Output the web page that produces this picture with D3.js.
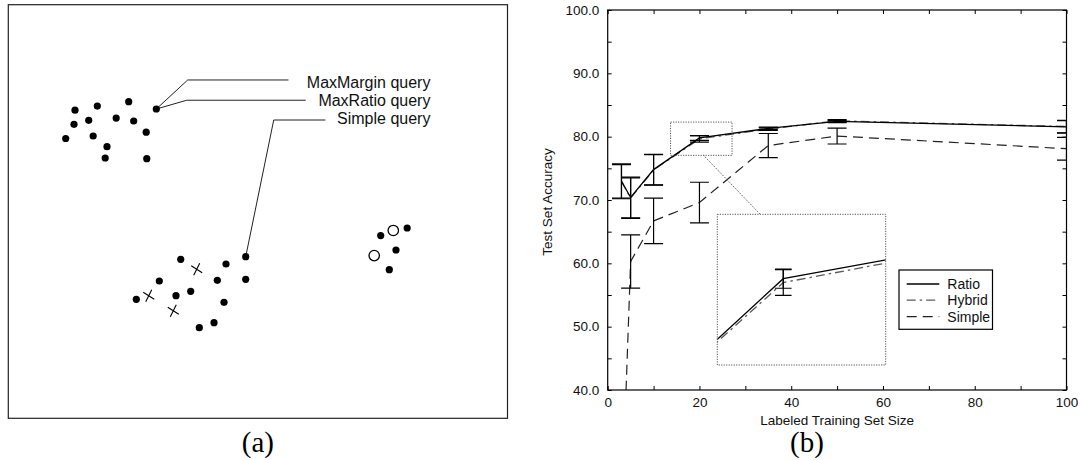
<!DOCTYPE html>
<html><head><meta charset="utf-8">
<script src="https://cdn.jsdelivr.net/npm/d3@7"></script>
<style>body{margin:0;background:#fff}svg{display:block}</style>
</head><body>
<script>
// ---------- Panel (a): toy data, abstract 0..100 plane ----------
const topClusterX = [13.36,17.83,24.12,29.65,13.16,16.11,21.61,25.12,11.5,17.0,27.62,19.77,19.41,27.74];
const topClusterY = [74.5,75.5,76.55,74.78,71.08,72.05,72.6,71.88,67.65,68.26,69.17,65.67,62.94,62.77];
const lowClusterX = [34.54,43.61,47.56,30.25,41.87,47.56,25.64,33.59,36.54,43.21,38.26,41.21];
const lowClusterY = [38.44,37.31,39.07,33.2,33.37,33.61,28.77,29.64,30.71,28.05,21.91,23.11];
const crossX = [37.74,28.13,33.05];
const crossY = [36.03,29.64,26.02];
const rightFilledX = [74.6,79.9,77.66,76.32];
const rightFilledY = [44.17,46.01,40.69,35.93];
const openX = [77.12,73.3];
const openY = [45.41,39.34];
const calloutLabels = ["MaxMargin query","MaxRatio query","Simple query"];
const calloutFromX = [29.65,29.65,47.56];
const calloutFromY = [74.78,74.78,39.07];
const calloutElbowX = [35.94,35.74,53.17];
const calloutElbowY = [81.8,76.9,72.12];
const calloutEndX = [56.13,59.58,63.52];
const calloutTextX = 84.56;
const calloutTextY = [79.79,75.5,71.15];

// ---------- Panel (b): learning curves ----------
const sizes = [3,5,10,20,35,50,100];
const ratioAcc  = [73.0,70.4,74.8,79.8,81.3,82.4,81.55];
const ratioErr  = [2.7,3.2,2.4,0.37,0.2,0.18,0.98];
const hybridAcc = [72.9,70.3,74.75,79.65,81.2,82.5,81.6];
const hybridErr = [2.7,3.2,2.4,0.5,0.2,0.2,0.98];
const simpleAcc = [19.7,60.3,66.7,69.6,78.6,80.1,78.1];
const simpleErr = [3.0,4.2,3.6,3.2,1.9,1.26,1.8];
const xTicks = [0,10,20,30,40,50,60,70,80,90,100];
const xTickLabels = [0,20,40,60,80,100];
const yTicks = [40,45,50,55,60,65,70,75,80,85,90,95,100];
const yTickLabels = [40,50,60,70,80,90,100];
const seriesNames = ["Ratio","Hybrid","Simple"];
const zoomBoxX = [13.7,27.1];
const zoomBoxY = [77.05,82.3];
const insetX = [15.3,27.3];
const insetY = [76.45,82.3];

const W=1080,H=460;
const svg = d3.select("body").append("svg").attr("width",W).attr("height",H);
svg.append("rect").attr("width",W).attr("height",H).attr("fill","#fff");
const sans = "Liberation Sans, Arial, Helvetica, sans-serif";
const serif = "Liberation Serif, Times New Roman, serif";

// ===== Panel (a) =====
const ax = d3.scaleLinear().domain([0,100]).range([8.3,507.5]);
const ay = d3.scaleLinear().domain([0,100]).range([418.3,4.7]);
const pa = svg.append("g");
pa.append("rect").attr("x",ax(0)).attr("y",ay(100)).attr("width",ax(100)-ax(0)).attr("height",ay(0)-ay(100))
  .attr("fill","none").attr("stroke","#222").attr("stroke-width",1.2);
calloutLabels.forEach((lab,i)=>{
  pa.append("polyline")
    .attr("points",[[ax(calloutFromX[i]),ay(calloutFromY[i])],[ax(calloutElbowX[i]),ay(calloutElbowY[i])],[ax(calloutEndX[i]),ay(calloutElbowY[i])]].map(p=>p.join(",")).join(" "))
    .attr("fill","none").attr("stroke","#222").attr("stroke-width",1);
  pa.append("text").attr("x",ax(calloutTextX)).attr("y",ay(calloutTextY[i]))
    .attr("text-anchor","end").attr("font-family",sans).attr("font-size",16).attr("fill","#111").text(lab);
});
const dots = d3.zip(topClusterX,topClusterY).concat(d3.zip(lowClusterX,lowClusterY)).concat(d3.zip(rightFilledX,rightFilledY));
pa.selectAll("circle.dot").data(dots).join("circle").attr("class","dot")
  .attr("cx",d=>ax(d[0])).attr("cy",d=>ay(d[1])).attr("r",3.6).attr("fill","#000");
pa.selectAll("circle.open").data(d3.zip(openX,openY)).join("circle").attr("class","open")
  .attr("cx",d=>ax(d[0])).attr("cy",d=>ay(d[1])).attr("r",5.2).attr("fill","#fff").attr("stroke","#000").attr("stroke-width",1.3);
d3.zip(crossX,crossY).forEach(d=>{
  const cx=ax(d[0]), cy=ay(d[1]);
  pa.append("path").attr("d",`M${cx-5.5},${cy-3.5}L${cx+5.5},${cy+3.5}M${cx+3},${cy-6}L${cx-3},${cy+6}`)
    .attr("stroke","#000").attr("stroke-width",1.1);
});
pa.append("text").attr("x",ax(50)).attr("y",452).attr("text-anchor","middle")
  .attr("font-family",serif).attr("font-size",29).attr("fill","#000").text("(a)");

// ===== Panel (b) =====
const x = d3.scaleLinear().domain([0,100]).range([607.7,1066.5]);
const y = d3.scaleLinear().domain([40,100]).range([390,10]);
const pb = svg.append("g");
const fmtX = d=> xTickLabels.includes(d)? String(d):"";
const fmtY = d=> yTickLabels.includes(d)? d.toFixed(1):"";
function styleAxis(g){
  g.select(".domain").remove();
  g.selectAll(".tick line").attr("stroke","#000").attr("stroke-width",1);
  g.selectAll(".tick text").attr("font-family",sans).attr("font-size",13.5).attr("fill","#111");
}
pb.append("g").attr("transform",`translate(0,${y(40)})`)
  .call(d3.axisBottom(x).tickValues(xTicks).tickSize(-4).tickPadding(7).tickFormat(fmtX)).call(styleAxis);
pb.append("g").attr("transform",`translate(0,${y(100)})`)
  .call(d3.axisTop(x).tickValues(xTicks).tickSize(-4).tickFormat("")).call(styleAxis);
pb.append("g").attr("transform",`translate(${x(0)},0)`)
  .call(d3.axisLeft(y).tickValues(yTicks).tickSize(-4).tickPadding(8.4).tickFormat(fmtY)).call(styleAxis);
pb.append("g").attr("transform",`translate(${x(100)},0)`)
  .call(d3.axisRight(y).tickValues(yTicks).tickSize(-4).tickFormat("")).call(styleAxis);
pb.append("rect").attr("x",x(0)).attr("y",y(100)).attr("width",x(100)-x(0)).attr("height",y(40)-y(100))
  .attr("fill","none").attr("stroke","#000").attr("stroke-width",1.2);

const defs = svg.append("defs");
defs.append("clipPath").attr("id","clipMain").append("rect")
  .attr("x",x(0)).attr("y",y(100)).attr("width",x(100)-x(0)).attr("height",y(40)-y(100));

const styles = {
  Ratio:{stroke:"#000",dash:null,w:1.3},
  Hybrid:{stroke:"#5a5a5a",dash:"9,4,2.5,4",w:1.3},
  Simple:{stroke:"#222",dash:"10,6",w:1.2}
};
const seriesVals = {Ratio:[ratioAcc,ratioErr],Hybrid:[hybridAcc,hybridErr],Simple:[simpleAcc,simpleErr]};

function drawCurves(g, sx, sy, names, capHalf){
  const order = ["Simple","Hybrid","Ratio"].filter(n=>names.includes(n));
  order.forEach(n=>{
    const [acc] = seriesVals[n];
    const line = d3.line().x((d,i)=>sx(sizes[i])).y(d=>sy(d));
    g.append("path").attr("d",line(acc)).attr("fill","none")
      .attr("stroke",styles[n].stroke).attr("stroke-width",styles[n].w)
      .attr("stroke-dasharray",styles[n].dash);
  });
  order.forEach(n=>{
    const [acc,err] = seriesVals[n];
    acc.forEach((v,i)=>{
      const cx = sx(sizes[i]), y1=sy(v-err[i]), y2=sy(v+err[i]);
      g.append("path").attr("d",`M${cx},${y1}L${cx},${y2}M${cx-capHalf},${y1}L${cx+capHalf},${y1}M${cx-capHalf},${y2}L${cx+capHalf},${y2}`)
        .attr("stroke","#000").attr("stroke-width",1.2).attr("fill","none");
    });
  });
}
const mainG = pb.append("g").attr("clip-path","url(#clipMain)");
drawCurves(mainG, x, y, seriesNames, 9.5);

pb.append("rect").attr("x",x(zoomBoxX[0])).attr("y",y(zoomBoxY[1]))
  .attr("width",x(zoomBoxX[1])-x(zoomBoxX[0])).attr("height",y(zoomBoxY[0])-y(zoomBoxY[1]))
  .attr("fill","none").attr("stroke","#555").attr("stroke-width",1).attr("stroke-dasharray","1.2,1.3");

const ix = d3.scaleLinear().domain(insetX).range([717.3,885.7]);
const iy = d3.scaleLinear().domain(insetY).range([365,214.3]);
pb.append("line").attr("x1",x(20.9)).attr("y1",y(zoomBoxY[0])).attr("x2",ix(18.36)).attr("y2",iy(insetY[1]))
  .attr("stroke","#555").attr("stroke-width",1).attr("stroke-dasharray","1.2,1.3");
defs.append("clipPath").attr("id","clipInset").append("rect")
  .attr("x",ix(insetX[0])).attr("y",iy(insetY[1])).attr("width",ix(insetX[1])-ix(insetX[0])).attr("height",iy(insetY[0])-iy(insetY[1]));
pb.append("rect").attr("x",ix(insetX[0])).attr("y",iy(insetY[1]))
  .attr("width",ix(insetX[1])-ix(insetX[0])).attr("height",iy(insetY[0])-iy(insetY[1]))
  .attr("fill","#fff");
const insG = pb.append("g").attr("clip-path","url(#clipInset)");
drawCurves(insG, ix, iy, seriesNames, 8.3);
pb.append("rect").attr("x",ix(insetX[0])).attr("y",iy(insetY[1]))
  .attr("width",ix(insetX[1])-ix(insetX[0])).attr("height",iy(insetY[0])-iy(insetY[1]))
  .attr("fill","none").attr("stroke","#555").attr("stroke-width",1).attr("stroke-dasharray","1.2,1.3");

const lg = pb.append("g");
lg.append("rect").attr("x",899).attr("y",270).attr("width",93.5).attr("height",59.3)
  .attr("fill","#fff").attr("stroke","#000").attr("stroke-width",1.2);
const legY = [284,300.2,316.7];
seriesNames.forEach((n,i)=>{
  lg.append("line").attr("x1",906.7).attr("x2",939.3).attr("y1",legY[i]).attr("y2",legY[i])
    .attr("stroke",styles[n].stroke).attr("stroke-width",styles[n].w).attr("stroke-dasharray",styles[n].dash);
  lg.append("text").attr("x",947.3).attr("y",legY[i]+5).attr("font-family",sans).attr("font-size",14)
    .attr("fill","#111").text(n);
});

pb.append("text").attr("transform",`translate(551.5,${(y(40)+y(100))/2 + 2}) rotate(-90)`)
  .attr("text-anchor","middle").attr("font-family",sans).attr("font-size",13.5).attr("fill","#111").text("Test Set Accuracy");
pb.append("text").attr("x",(x(0)+x(100))/2).attr("y",425).attr("text-anchor","middle")
  .attr("font-family",sans).attr("font-size",13.5).attr("fill","#111").text("Labeled Training Set Size");
pb.append("text").attr("x",807).attr("y",452).attr("text-anchor","middle")
  .attr("font-family",serif).attr("font-size",29).attr("fill","#000").text("(b)");
</script>
</body></html>
